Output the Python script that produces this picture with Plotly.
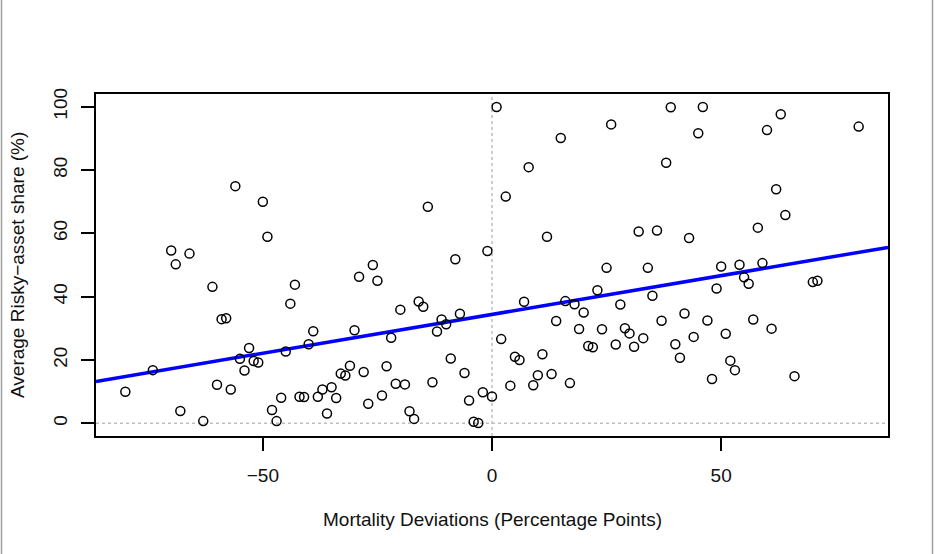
import numpy as np
import plotly.graph_objects as go

# Mortality deviation (percentage points) for each observation
mortality_dev = [
    -80, -74, -70, -69, -68, -66, -63, -61, -60, -59, -58, -57, -56, -55, -54,
    -53, -52, -51, -50, -49, -48, -47, -46, -45, -44, -43, -42, -41, -40, -39,
    -38, -37, -36, -35, -34, -33, -32, -31, -30, -29, -28, -27, -26, -25, -24,
    -23, -22, -21, -20, -19, -18, -17, -16, -15, -14, -13, -12, -11, -10, -9,
    -8, -7, -6, -5, -4, -3, -2, -1, 0,
    1, 2, 3, 4, 5, 6, 7, 8, 9, 10, 11, 12, 13, 14, 15, 16, 17, 18, 19, 20,
    21, 22, 23, 24, 25, 26, 27, 28, 29, 30, 31, 32, 33, 34, 35, 36, 37, 38,
    39, 40, 41, 42, 43, 44, 45, 46, 47, 48, 49, 50, 51, 52, 53, 54, 55, 56,
    57, 58, 59, 60, 61, 62, 63, 64, 66, 70, 71, 80,
]

# Average risky-asset share (%) for each observation
risky_share = [
    10.0, 16.8, 54.6, 50.2, 3.9, 53.6, 0.7, 43.1, 12.2, 32.9, 33.2, 10.7, 74.9,
    20.4, 16.7, 23.8, 19.7, 19.2, 70.0, 58.9, 4.2, 0.7, 8.1, 22.7, 37.8, 43.8,
    8.4, 8.3, 25.0, 29.1, 8.4, 10.7, 3.1, 11.4, 8.0, 15.7, 15.1, 18.2, 29.4,
    46.3, 16.2, 6.2, 50.0, 45.0, 8.8, 18.0, 27.0, 12.5, 35.9, 12.3, 3.8, 1.4,
    38.5, 36.8, 68.4, 13.0, 29.0, 32.8, 31.3, 20.5, 51.8, 34.6, 15.9, 7.2, 0.5,
    0.1, 9.8, 54.4, 8.5,
    99.9, 26.6, 71.6, 11.9, 21.0, 20.0, 38.4, 80.9, 12.0, 15.2, 21.8, 58.9,
    15.6, 32.3, 90.1, 38.6, 12.7, 37.6, 29.8, 35.0, 24.4, 24.0, 42.0, 29.7,
    49.1, 94.4, 24.9, 37.5, 30.0, 28.4, 24.2, 60.6, 26.9, 49.1, 40.3, 60.9,
    32.4, 82.3, 99.8, 25.0, 20.7, 34.7, 58.5, 27.3, 91.6, 99.9, 32.5, 14.0,
    42.6, 49.5, 28.3, 19.8, 16.8, 50.1, 46.1, 44.1, 32.8, 61.8, 50.6, 92.6,
    29.9, 73.9, 97.6, 65.8, 14.9, 44.6, 45.0, 93.7,
]

# Fitted linear regression (intercept, slope)
fit_intercept = 34.4
fit_slope = 0.245

x_ticks = [-50, 0, 50]
x_tick_labels = ["\u221250", "0", "50"]
y_ticks = [0, 20, 40, 60, 80, 100]

x_range = [-86.4, 86.4]
y_range = [-4, 104]

W, H = 935, 554
ML, MR, MT, MB = 96, 47, 94, 118
PW, PH = W - ML - MR, H - MT - MB

FONT = "Liberation Sans, Arial, sans-serif"


def px_to_paper_x(px):
    return (px - ML) / PW


def px_to_paper_y(py):
    return (H - MB - py) / PH


fig = go.Figure()

# Regression line across the full plotting region
line_x = np.array(x_range)
line_y = fit_intercept + fit_slope * line_x
fig.add_trace(go.Scatter(
    x=line_x, y=line_y, mode="lines",
    line=dict(color="#0000ff", width=3.5),
    hoverinfo="skip", showlegend=False,
))

# Observations as open circles
fig.add_trace(go.Scatter(
    x=mortality_dev, y=risky_share, mode="markers",
    marker=dict(symbol="circle-open", size=9, color="black",
                line=dict(width=1.5, color="black")),
    showlegend=False,
))

# Dotted reference lines at zero
fig.add_shape(type="line", xref="x", yref="y",
              x0=0, x1=0, y0=y_range[0], y1=y_range[1],
              line=dict(color="#bebebe", width=1.5, dash="dot"), layer="below")
fig.add_shape(type="line", xref="x", yref="y",
              x0=x_range[0], x1=x_range[1], y0=0, y1=0,
              line=dict(color="#bebebe", width=1.5, dash="dot"), layer="below")

# Thin grey page edges
for px in (1.5, 932.5):
    xp = px_to_paper_x(px)
    fig.add_shape(type="line", xref="paper", yref="paper",
                  x0=xp, x1=xp, y0=px_to_paper_y(H), y1=px_to_paper_y(0),
                  line=dict(color="#a0a0a0", width=1.5))

# Axis titles
fig.add_annotation(text="Mortality Deviations (Percentage Points)",
                   xref="paper", yref="paper",
                   x=0.5, y=px_to_paper_y(519),
                   xanchor="center", yanchor="middle", showarrow=False,
                   font=dict(family=FONT, size=19, color="#111111"))
fig.add_annotation(text="Average Risky\u2212asset share (%)",
                   xref="paper", yref="paper",
                   x=px_to_paper_x(17), y=0.5, textangle=-90,
                   xanchor="center", yanchor="middle", showarrow=False,
                   font=dict(family=FONT, size=19, color="#111111"))

fig.update_layout(
    width=W, height=H,
    margin=dict(l=ML, r=MR, t=MT, b=MB),
    paper_bgcolor="white", plot_bgcolor="white",
    font=dict(family=FONT, size=19, color="#111111"),
    xaxis=dict(
        range=x_range, tickvals=x_ticks, ticktext=x_tick_labels,
        showgrid=False, zeroline=False,
        showline=True, mirror=True, linecolor="black", linewidth=2,
        ticks="outside", ticklen=13, tickwidth=2, tickcolor="black",
        ticklabelstandoff=8,
    ),
    yaxis=dict(
        range=y_range, tickvals=y_ticks,
        showgrid=False, zeroline=False,
        showline=True, mirror=True, linecolor="black", linewidth=2,
        ticks="outside", ticklen=13, tickwidth=2, tickcolor="black",
        tickangle=-90, ticklabelstandoff=6,
    ),
)

fig.write_html("out.html")
